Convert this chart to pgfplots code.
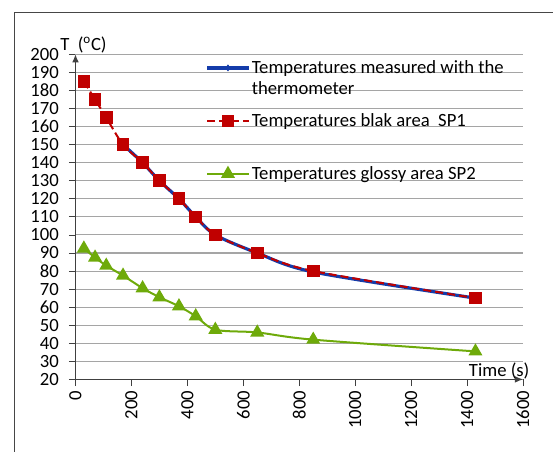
\documentclass[border=0pt]{standalone}
\usepackage{fontspec}
\setmainfont{Carlito}
\usepackage{pgfplots}
\pgfplotsset{compat=1.18}
\usetikzlibrary{arrows.meta}

\definecolor{tblue}{RGB}{20,60,170}
\definecolor{tred}{RGB}{192,0,0}
\definecolor{tgreen}{RGB}{110,170,10}
\definecolor{tgrid}{RGB}{165,165,165}
\definecolor{tframe}{RGB}{70,70,70}

\newcommand\lstrut{\rule[-5pt]{0pt}{12pt}}

\begin{document}
\begin{tikzpicture}
\useasboundingbox (-56.6pt,-53.8pt) rectangle (358.1pt,284.5pt);
% outer chart frame (only top and left edges are inside the crop)
\draw[tframe, line width=0.8pt] (-45.6pt,-60pt) -- (-45.6pt,275pt) -- (365pt,275pt);
\begin{axis}[
    scale only axis,
    width=335.6pt, height=243.75pt,
    xmin=0, xmax=1600,
    ymin=20, ymax=200,
    xtick={0,200,...,1600},
    ytick={20,30,...,200},
    axis lines*=left,
    axis line style={line width=0.8pt, draw=darkgray, -{Latex[length=6pt,width=5pt]}},
    ymajorgrids,
    grid style={tgrid, line width=0.8pt},
    tick align=outside,
    major tick length=5pt,
    tick style={darkgray, line width=0.6pt},
    font=\fontsize{14}{16}\selectfont,
    /pgf/number format/assume math mode=true,
    /pgf/number format/1000 sep={},
    xticklabel style={rotate=90, anchor=east},
    yticklabel style={xshift=-4pt},
    ylabel={T\ \ (\textsuperscript{o}C)},
    ylabel style={rotate=-90, at={(rel axis cs:0,1)}, anchor=base, xshift=6pt, yshift=3pt, inner sep=0pt},
    xlabel={Time (s)},
    xlabel style={at={(rel axis cs:1,0)}, anchor=base east, xshift=5pt, yshift=2.5pt, inner sep=0pt},
    legend cell align=left,
    legend style={draw=none, fill=none, at={(rel axis cs:0.29,0.985)}, anchor=north west,
        inner sep=0pt, row sep=26.5pt, font=\fontsize{14}{16}\selectfont,
        cells={anchor=base west}, nodes={inner sep=1pt}},
    legend image code/.code={
        \draw[yshift=4.4pt, mark repeat=2, mark phase=2] plot coordinates {(0cm,0cm) (0.55cm,0cm) (1.1cm,0cm)};
    },
]
    % thermometer
    \addplot[tblue, line width=2.4pt, smooth, mark=diamond*, mark size=2.2pt,
        mark options={solid, fill=tblue, line width=0.5pt}] coordinates {
        (170,150)(240,140)(300,130)(370,120)(430,110)(500,100)(650,90)(850,79.5)(1430,65)
    };
    \addlegendentry{\lstrut\rlap{\smash{\raisebox{-15.75pt}{thermometer}}}Temperatures measured with the}

    % black area SP1
    \addplot[tred, line width=1.5pt, dash pattern=on 6pt off 3pt, smooth, mark=square*,
        mark size=4pt, mark options={solid, fill=tred}] coordinates {
        (30,185)(70,175)(110,165)(170,150)(240,140)(300,130)(370,120)(430,110)(500,100)(650,90)(850,80)(1430,65)
    };
    \addlegendentry{\lstrut Temperatures blak area\ \ SP1}

    % glossy area SP2
    \addplot[tgreen, line width=1.5pt, smooth, mark=triangle*, mark size=4.6pt,
        mark options={solid, fill=tgreen}] coordinates {
        (30,92.5)(70,87.5)(110,83)(170,77.5)(240,70.5)(300,65.5)(370,60.5)(430,55)(500,47.5)(650,46)(850,42)(1430,35.5)
    };
    \addlegendentry{\lstrut Temperatures glossy area SP2}
\end{axis}
\end{tikzpicture}
\end{document}
